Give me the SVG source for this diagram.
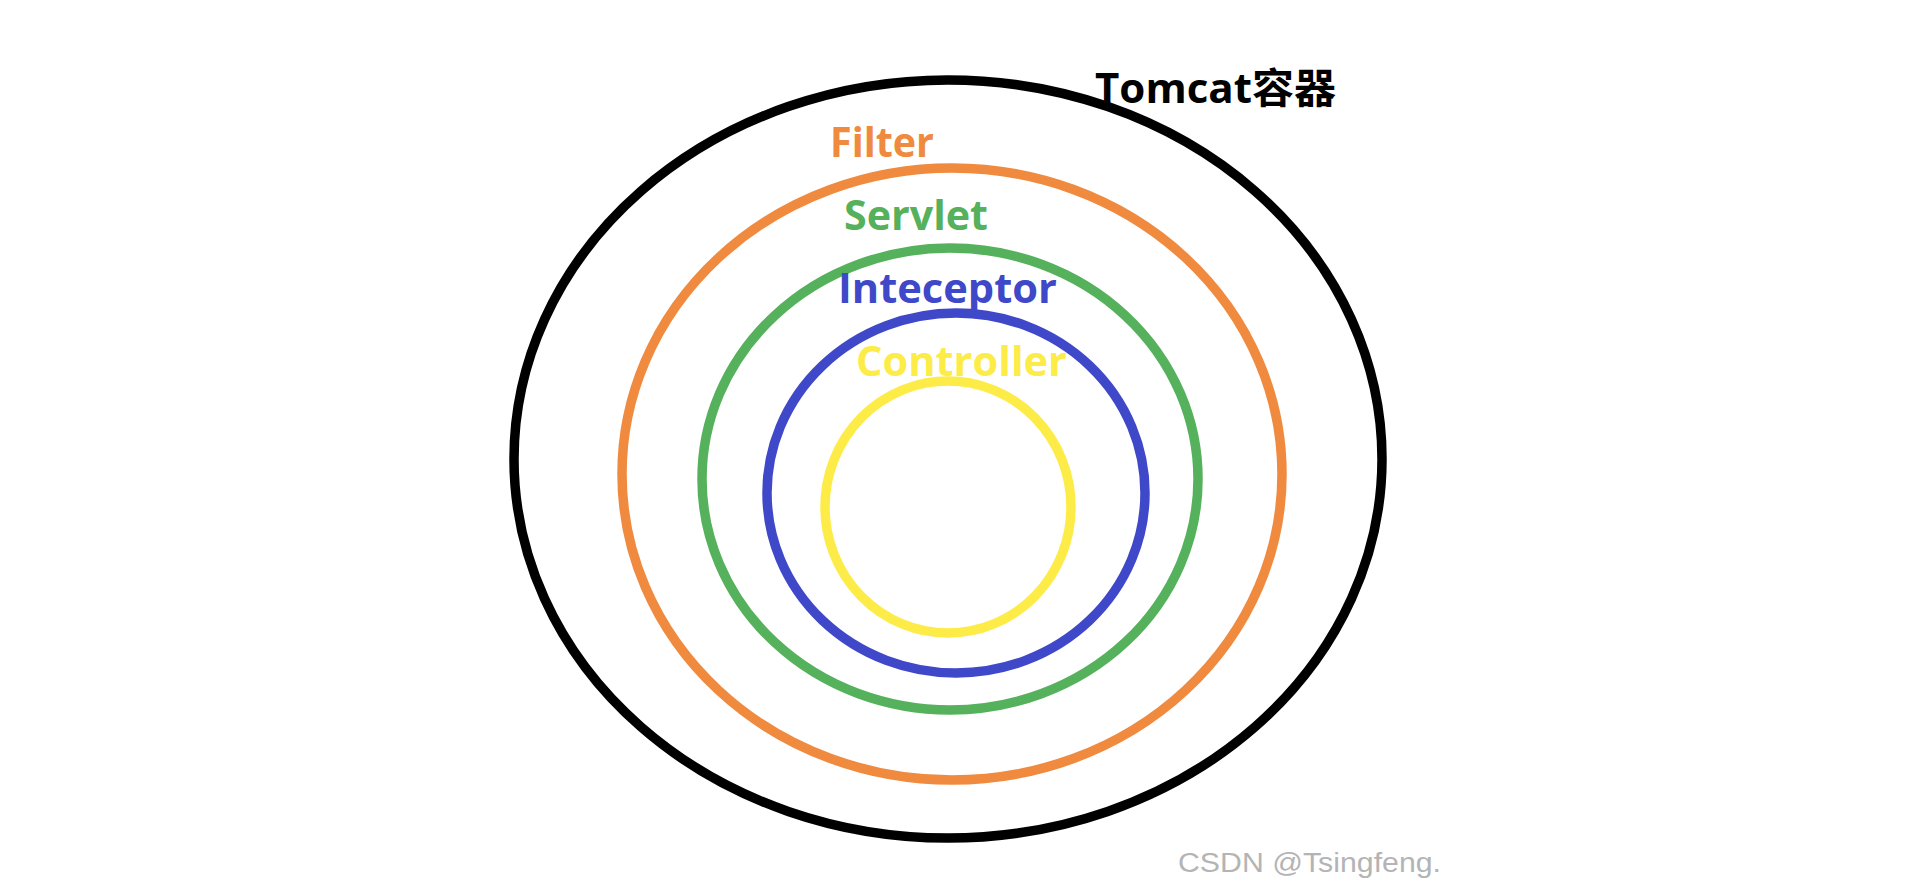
<svg xmlns="http://www.w3.org/2000/svg" width="1920" height="894" viewBox="0 0 1920 894">
<style>
.ring{fill:none;stroke-width:9.5}
.lbl{font-family:"Open Sans","Noto Sans CJK SC",sans-serif;font-weight:700;font-size:41px}
.wm{font-family:"Liberation Sans",sans-serif;font-size:27px;fill:#b4b4b4}
</style>
<rect width="1920" height="894" fill="#ffffff"/>
<g id="tomcat">
<ellipse class="ring" cx="948" cy="459" rx="434" ry="379" stroke="#000000" stroke-width="10"/>
<text class="lbl" x="1095" y="103" fill="#000000" textLength="241" lengthAdjust="spacingAndGlyphs">Tomcat容器</text>
</g>
<g id="filter">
<ellipse class="ring" cx="952" cy="474" rx="330" ry="306" stroke="#ef8a3f"/>
<text class="lbl" x="830" y="157" fill="#ef8a3f" textLength="104" lengthAdjust="spacingAndGlyphs">Filter</text>
</g>
<g id="servlet">
<ellipse class="ring" cx="950" cy="479" rx="248" ry="231" stroke="#55b15b"/>
<text class="lbl" x="844" y="230" fill="#55b15b" textLength="144" lengthAdjust="spacingAndGlyphs">Servlet</text>
</g>
<g id="interceptor">
<ellipse class="ring" cx="956" cy="493" rx="189" ry="180" stroke="#3f48c8"/>
<text class="lbl" x="838" y="303" fill="#3f48c8" textLength="219" lengthAdjust="spacingAndGlyphs">Inteceptor</text>
</g>
<g id="controller">
<ellipse class="ring" cx="948" cy="507" rx="123" ry="126" stroke="#fdec48"/>
<text class="lbl" x="856" y="376" fill="#fdec48" textLength="211" lengthAdjust="spacingAndGlyphs">Controller</text>
</g>
<g id="connectors"/>
<text class="wm" x="1178" y="872" textLength="263" lengthAdjust="spacingAndGlyphs">CSDN @Tsingfeng.</text>
</svg>
